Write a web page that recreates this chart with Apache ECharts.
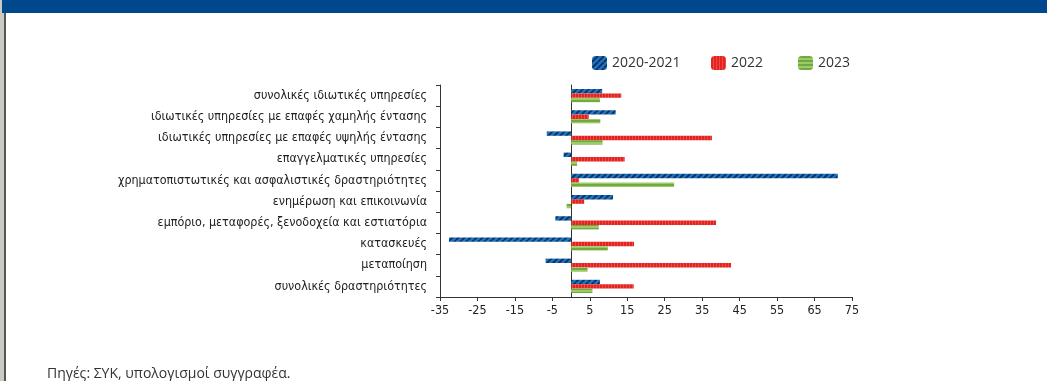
<!DOCTYPE html>
<html>
<head>
<meta charset="utf-8">
<script src="https://cdn.jsdelivr.net/npm/echarts@6/dist/echarts.min.js"></script>
<style>
  html, body { margin: 0; padding: 0; background: #fff; }
  #chart { width: 1047px; height: 381px; }
</style>
</head>
<body>
<div id="chart"></div>
<script>
// Sectors, listed top to bottom
const categories = [
  'συνολικές ιδιωτικές υπηρεσίες',
  'ιδιωτικές υπηρεσίες με επαφές χαμηλής έντασης',
  'ιδιωτικές υπηρεσίες με επαφές υψηλής έντασης',
  'επαγγελματικές υπηρεσίες',
  'χρηματοπιστωτικές και ασφαλιστικές δραστηριότητες',
  'ενημέρωση και επικοινωνία',
  'εμπόριο, μεταφορές, ξενοδοχεία και εστιατόρια',
  'κατασκευές',
  'μεταποίηση',
  'συνολικές δραστηριότητες'
];
const seriesNames = ['2020-2021', '2022', '2023'];
const values2020_2021 = [8.3, 11.9, -6.5, -2.0, 71.2, 11.2, -4.2, -32.6, -6.8, 7.7];
const values2022 = [13.4, 4.7, 37.6, 14.3, 2.1, 3.5, 38.7, 16.8, 42.7, 16.7];
const values2023 = [7.7, 7.8, 8.4, 1.6, 27.5, -1.2, 7.4, 9.8, 4.4, 5.7];
const xTicks = { min: -35, max: 75, interval: 10 };
const sourceNote = 'Πηγές: ΣΥΚ, υπολογισμοί συγγραφέα.';

// Pattern fills drawn on small canvases
function makePattern(size, draw) {
  const c = document.createElement('canvas');
  c.width = size; c.height = size;
  const ctx = c.getContext('2d');
  draw(ctx, size);
  return { image: c, repeat: 'repeat' };
}
const bluePattern = makePattern(6, (ctx, s) => {
  ctx.fillStyle = '#1d72c2';
  ctx.fillRect(0, 0, s, s);
  ctx.strokeStyle = '#0d2d55';
  ctx.lineWidth = 1.6;
  for (let k = -s; k <= 2 * s; k += s) {
    ctx.beginPath();
    ctx.moveTo(k, s);
    ctx.lineTo(k + s, 0);
    ctx.stroke();
  }
});
const redPattern = makePattern(3, (ctx, s) => {
  ctx.fillStyle = '#e3231f';
  ctx.fillRect(0, 0, s, s);
  ctx.fillStyle = '#ec4a43';
  ctx.fillRect(2, 0, 1, s);
});
const greenPattern = makePattern(4, (ctx, s) => {
  ctx.fillStyle = '#9ccc66';
  ctx.fillRect(0, 0, s, s);
  ctx.fillStyle = '#72a843';
  ctx.fillRect(0, 0, s, 2);
});

const chart = echarts.init(document.getElementById('chart'), null, { renderer: 'canvas' });

const narrowFont = 'Liberation Sans Narrow, DejaVu Sans Condensed, sans-serif';
const barCommon = {
  type: 'bar',
  barWidth: 4.4,
  barGap: '0%',
  yAxisIndex: 0
};

// one legend entry per component so each can be placed on its own
const legendLefts = [592, 711, 798];
const legends = seriesNames.map((name, i) => ({
  left: legendLefts[i],
  top: 56,
  padding: 0,
  itemWidth: 15,
  itemHeight: 14,
  itemGap: 7,
  textStyle: { fontFamily: 'Open Sans, sans-serif', fontSize: 14, color: '#333' },
  data: [name]
}));

chart.setOption({
  animation: false,
  backgroundColor: '#ffffff',
  textStyle: { fontFamily: narrowFont },
  legend: legends,
  grid: { left: 440, right: 195, top: 85, bottom: 84, containLabel: false },
  xAxis: {
    type: 'value',
    min: xTicks.min,
    max: xTicks.max,
    interval: xTicks.interval,
    axisLine: { show: true, onZero: false, lineStyle: { color: '#333', width: 1 } },
    axisTick: { show: true, inside: false, length: 4, lineStyle: { color: '#333' } },
    splitLine: { show: false },
    axisLabel: { fontSize: 12.5, color: '#222', margin: 7, fontFamily: narrowFont }
  },
  yAxis: [
    {
      type: 'category',
      data: categories,
      inverse: true,
      position: 'left',
      axisLine: { show: true, onZero: false, lineStyle: { color: '#333' } },
      axisTick: { show: true, length: 4, lineStyle: { color: '#333' } },
      axisLabel: { fontSize: 12.4, color: '#222', margin: 13, fontFamily: narrowFont }
    },
    {
      // zero line
      type: 'category',
      data: categories,
      inverse: true,
      position: 'left',
      axisLine: { show: true, onZero: true, lineStyle: { color: '#333' } },
      axisTick: { show: false },
      axisLabel: { show: false }
    }
  ],
  series: [
    Object.assign({}, barCommon, { name: seriesNames[0], data: values2020_2021, itemStyle: { color: bluePattern } }),
    Object.assign({}, barCommon, { name: seriesNames[1], data: values2022, itemStyle: { color: redPattern } }),
    Object.assign({}, barCommon, { name: seriesNames[2], data: values2023, itemStyle: { color: greenPattern } })
  ],
  graphic: [
    { type: 'rect', left: 0, top: 0, shape: { width: 4, height: 381 }, style: { fill: '#c8cac3' }, silent: true },
    { type: 'rect', left: 4, top: 0, shape: { width: 2, height: 381 }, style: { fill: '#555' }, silent: true },
    { type: 'rect', left: 2, top: 0, shape: { width: 1045, height: 13 }, style: { fill: '#00488e' }, silent: true },
    {
      type: 'text', left: 47, top: 367,
      style: { text: sourceNote, fill: '#333', font: '14px "Open Sans", sans-serif' }
    }
  ]
});
</script>
</body>
</html>
